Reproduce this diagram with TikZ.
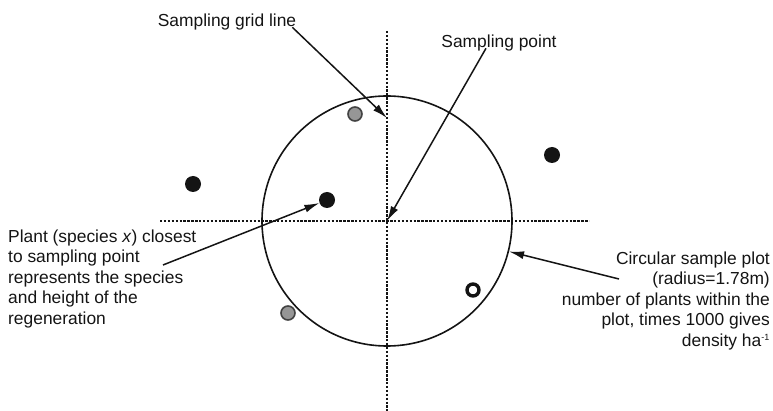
\documentclass[tikz,border=0pt]{standalone}
\usepackage{fontspec}
\setmainfont{Liberation Sans}
\usepackage{tikz}
\usepackage{xcolor}
\usetikzlibrary{calc,arrows.meta,positioning}
\definecolor{inkBlack}{RGB}{20,20,20}
\definecolor{dotGrey}{RGB}{150,150,150}
\newcommand{\lblfont}{\fontsize{17.4}{20.5}\selectfont}

\begin{document}
\begin{tikzpicture}[x=1pt,y=-1pt,
  gridLine/.style={draw=inkBlack,line width=1.1pt,dash pattern=on 2.4pt off 1.5pt},
  plantDot/.style={circle,fill=inkBlack,draw=none,minimum size=16pt,inner sep=0pt},
  greyDot/.style={circle,fill=dotGrey,draw=inkBlack!80,line width=1.6pt,minimum size=14pt,inner sep=0pt},
  openDot/.style={circle,fill=white,draw=inkBlack,line width=3.4pt,minimum size=12pt,inner sep=0pt},
  callout/.style={draw=inkBlack,line width=1.5pt,-{Latex[length=15pt,width=8pt]}},
  lbl/.style={text=inkBlack,inner sep=0pt,font=\lblfont}]
\useasboundingbox (0,0) rectangle (773,411);

% grid lines and sampling point
\coordinate (sp) at (387,221);
\coordinate (gridTop) at (387,31);
\coordinate (gridBot) at (387,411);
\coordinate (gridLeft) at (160,221);
\coordinate (gridRight) at (589,221);
\draw[gridLine] (gridTop) -- (gridBot);
\draw[gridLine] (gridLeft) -- (gridRight);

% circular plot
\node[circle,draw=inkBlack,line width=1.6pt,minimum size=250pt,inner sep=0pt] (plot) at (sp) {};

% plants
\node[greyDot] (plantA) at (355,114) {};
\node[plantDot] (plantB) at (193,184) {};
\node[plantDot] (closest) at (327,200) {};
\node[plantDot] (plantC) at (552,155) {};
\node[greyDot] (plantD) at (288,313) {};
\node[openDot] (plantE) at (473,290) {};

% labels
\node[lbl] (gridLbl) at (227,22) {Sampling grid line};
\node[lbl] (pointLbl) at (499,43) {Sampling point};
\node[lbl,anchor=west,align=left] (plantLbl) at (8,279)
{Plant (species \textit{x}) closest\\to sampling point\\represents the species\\and height of the\\regeneration};
\node[lbl,anchor=east,align=right] (plotLbl) at (770,301)
{Circular sample plot\\(radius=1.78m)\\number of plants within the\\plot, times 1000 gives\\density ha\textsuperscript{\fontsize{9}{9}\selectfont-1}};

% callouts
\coordinate (gridHit) at (387,118);
\coordinate (plantFrom) at (163,265);
\coordinate (plotFrom) at (619,279);
\draw[callout] ([xshift=-4pt,yshift=3pt]gridLbl.south east) -- (gridHit);
\draw[callout] ([xshift=-13pt,yshift=3pt]pointLbl.south) -- (sp);
\draw[callout] (plantFrom) -- (closest);
\draw[callout] (plotFrom) -- (plot);

\end{tikzpicture}
\end{document}
